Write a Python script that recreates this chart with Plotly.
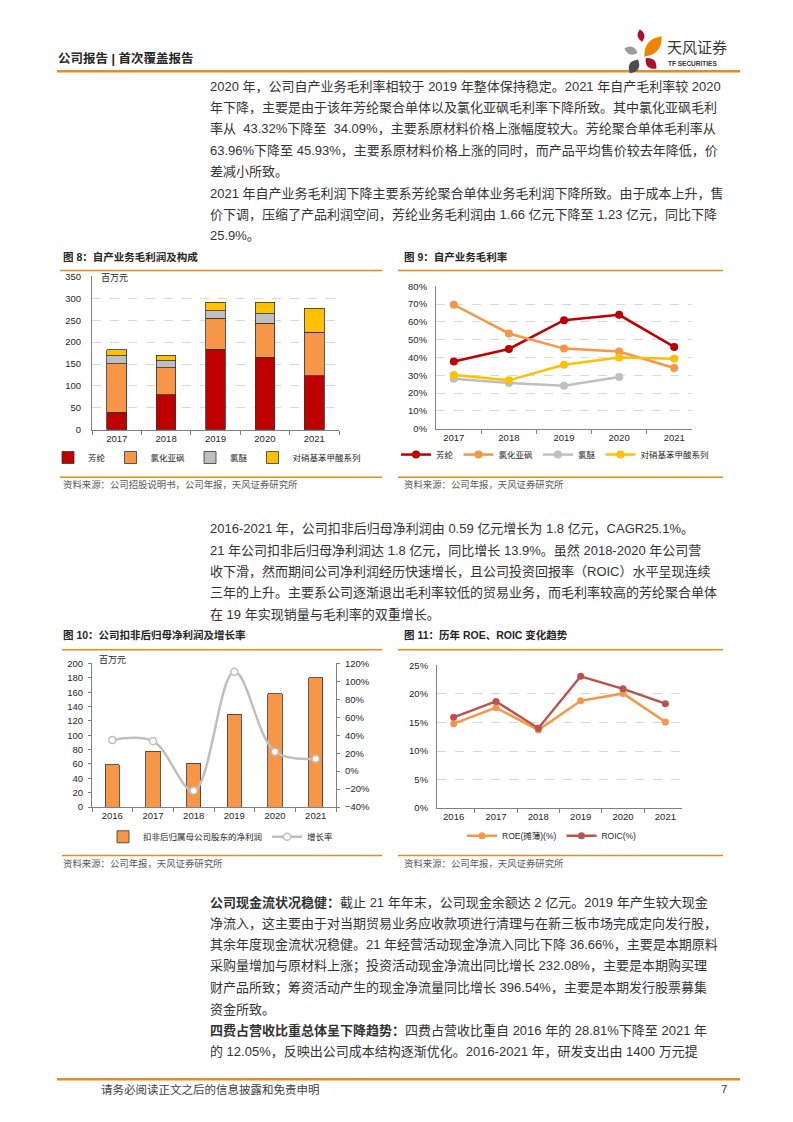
import math
import plotly.graph_objects as go

W, H = 793, 1122
FONT = "Liberation Sans, Arial, Noto Sans CJK SC"


def px(x):
    return x / W


def py(y):
    return 1 - y / H


# ---------------- data ----------------
years_a = ["2017", "2018", "2019", "2020", "2021"]
gp_aramid = [40, 80, 184, 166, 123]
gp_socl2 = [111, 62, 70, 77, 100]
gp_ether = [18, 16, 17, 22, 0]
gp_pnba = [14, 12, 20, 26, 54]

gm_aramid = [37.8, 44.8, 60.9, 63.96, 45.93]
gm_socl2 = [69.6, 53.5, 45.0, 43.32, 34.09]
gm_ether = [28.1, 25.7, 24.1, 29.1, None]
gm_pnba = [30.2, 27.2, 35.9, 40.0, 39.3]

years_b = ["2016", "2017", "2018", "2019", "2020", "2021"]
np_deducted = [59, 78, 61, 129.5, 158, 180]
np_growth = [34.8, 33.4, -21.9, 110.8, 21.6, 13.9]

roe = [14.8, 17.6, 13.7, 18.8, 20.1, 15.1]
roic = [15.9, 18.7, 14.0, 23.1, 20.9, 18.3]

names_a = ["芳纶", "氯化亚砜", "氯醚", "对硝基苯甲酸系列"]
colors_a = ["#C00000", "#F79646", "#BFBFBF", "#FFC000"]

para1 = [
    "2020 年，公司自产业务毛利率相较于 2019 年整体保持稳定。2021 年自产毛利率较 2020",
    "年下降，主要是由于该年芳纶聚合单体以及氯化亚砜毛利率下降所致。其中氯化亚砜毛利",
    "率从  43.32%下降至  34.09%，主要系原材料价格上涨幅度较大。芳纶聚合单体毛利率从",
    "63.96%下降至 45.93%，主要系原材料价格上涨的同时，而产品平均售价较去年降低，价",
    "差减小所致。",
]
para2 = [
    "2021 年自产业务毛利润下降主要系芳纶聚合单体业务毛利润下降所致。由于成本上升，售",
    "价下调，压缩了产品利润空间，芳纶业务毛利润由 1.66 亿元下降至 1.23 亿元，同比下降",
    "25.9%。",
]
para3 = [
    "2016-2021 年，公司扣非后归母净利润由 0.59 亿元增长为 1.8 亿元，CAGR25.1%。",
    "21 年公司扣非后归母净利润达 1.8 亿元，同比增长 13.9%。虽然 2018-2020 年公司营",
    "收下滑，然而期间公司净利润经历快速增长，且公司投资回报率（ROIC）水平呈现连续",
    "三年的上升。主要系公司逐渐退出毛利率较低的贸易业务，而毛利率较高的芳纶聚合单体",
    "在 19 年实现销量与毛利率的双重增长。",
]
para4 = [
    "<b>公司现金流状况稳健：</b>截止 21 年年末，公司现金余额达 2 亿元。2019 年产生较大现金",
    "净流入，这主要由于对当期贸易业务应收款项进行清理与在新三板市场完成定向发行股，",
    "其余年度现金流状况稳健。21 年经营活动现金净流入同比下降 36.66%，主要是本期原料",
    "采购量增加与原材料上涨；投资活动现金净流出同比增长 232.08%，主要是本期购买理",
    "财产品所致；筹资活动产生的现金净流量同比增长 396.54%，主要是本期发行股票募集",
    "资金所致。",
    "<b>四费占营收比重总体呈下降趋势：</b>四费占营收比重自 2016 年的 28.81%下降至 2021 年",
    "的 12.05%，反映出公司成本结构逐渐优化。2016-2021 年，研发支出由 1400 万元提",
]

fig = go.Figure()

# ---------------- chart 8: stacked bars ----------------
for name, vals, col in zip(names_a, [gp_aramid, gp_socl2, gp_ether, gp_pnba], colors_a):
    fig.add_trace(go.Bar(x=years_a, y=vals, name=name, marker_color=col,
                         marker_line=dict(color="#333333", width=0.8), width=0.4,
                         xaxis="x", yaxis="y", legend="legend"))

# ---------------- chart 9: margin lines ----------------
for name, vals, col in zip(names_a, [gm_aramid, gm_socl2, gm_ether, gm_pnba], colors_a):
    fig.add_trace(go.Scatter(x=years_a, y=vals, name=name, mode="lines+markers",
                             line=dict(color=col, width=2.5), marker=dict(size=8, color=col),
                             xaxis="x2", yaxis="y2", legend="legend2"))

# ---------------- chart 10: bars + growth ----------------
fig.add_trace(go.Bar(x=years_b, y=np_deducted, name="扣非后归属母公司股东的净利润",
                     marker_color="#F79646", marker_line=dict(color="#333333", width=0.8),
                     width=0.35, xaxis="x3", yaxis="y3", legend="legend3"))
fig.add_trace(go.Scatter(x=years_b, y=np_growth, name="增长率", mode="lines+markers",
                         line=dict(color="#BFBFBF", width=2.5, shape="spline"),
                         marker=dict(size=7, color="white", line=dict(color="#BFBFBF", width=1.5)),
                         xaxis="x3", yaxis="y5", legend="legend3"))

# ---------------- chart 11: ROE / ROIC ----------------
fig.add_trace(go.Scatter(x=years_b, y=roe, name="ROE(摊薄)(%)", mode="lines+markers",
                         line=dict(color="#F79646", width=2.5), marker=dict(size=7, color="#F79646"),
                         xaxis="x4", yaxis="y4", legend="legend4"))
fig.add_trace(go.Scatter(x=years_b, y=roic, name="ROIC(%)", mode="lines+markers",
                         line=dict(color="#C0504D", width=2.5), marker=dict(size=7, color="#C0504D"),
                         xaxis="x4", yaxis="y4", legend="legend4"))

AX = "#808080"
tickf = dict(family=FONT, size=9.5, color="#262626")


def xax(x0, x1, y_anchor):
    return dict(domain=[px(x0), px(x1)], anchor=y_anchor, type="category", showline=True,
                linecolor=AX, ticks="outside", tickson="boundaries", ticklen=4, tickcolor=AX,
                tickfont=tickf, showgrid=False, zeroline=False)


def yax(y_top, y_bot, x_anchor, rng, dtick, grid=True, suffix="", standoff=6):
    return dict(domain=[py(y_bot), py(y_top)], anchor=x_anchor, range=rng, dtick=dtick,
                showline=True, linecolor=AX, showgrid=grid, gridcolor="#D9D9D9",
                griddash="dash", zeroline=False, tickfont=tickf, ticksuffix=suffix,
                ticklabelstandoff=standoff)


leg = dict(orientation="h", xanchor="center", yanchor="middle", traceorder="normal",
           font=dict(family=FONT, size=8.5, color="#262626"),
           bgcolor="rgba(0,0,0,0)", itemwidth=30, tracegroupgap=0)

fig.update_layout(
    width=W, height=H, autosize=False, margin=dict(l=0, r=0, t=0, b=0),
    paper_bgcolor="white", plot_bgcolor="white", barmode="stack",
    font=dict(family=FONT, color="#262626"),
    xaxis=xax(92, 339, "y"),
    yaxis=yax(273, 428, "x", [0, 350], 50, standoff=8),
    xaxis2=xax(436, 692, "y2"),
    yaxis2=yax(283, 427, "x2", [0, 80], 10, suffix="%"),
    xaxis3=xax(92, 336, "y3"),
    yaxis3=dict(yax(664, 809, "x3", [0, 200], 20, grid=False), ticks="outside", ticklen=3, tickcolor=AX,
                ticklabelstandoff=3),
    yaxis5=dict(overlaying="y3", side="right", anchor="x3", range=[-40, 120], dtick=20, ticksuffix="%",
                showline=True, linecolor=AX, showgrid=False, zeroline=False, tickfont=tickf,
                ticks="outside", ticklen=3, tickcolor=AX, ticklabelstandoff=3),
    xaxis4=xax(437, 682, "y4"),
    yaxis4=yax(666, 810, "x4", [0, 25], 5, suffix="%"),
    legend=dict(leg, x=px(207), y=py(456)),
    legend2=dict(leg, x=px(555), y=py(453)),
    legend3=dict(leg, x=px(221), y=py(839)),
    legend4=dict(leg, x=px(552), y=py(838)),
    showlegend=True,
)

# ---------------- page text & decorations ----------------
ann = []
shapes = []
ORANGE = "#EE8A1C"
DY = -3  # text baseline correction


def text(x, y, s, size, color="#333333", bold=False, anchor="left"):
    ann.append(dict(x=px(x), y=py(y + DY), xref="paper", yref="paper",
                    text=("<b>%s</b>" % s) if bold else s,
                    showarrow=False, xanchor=anchor, yanchor="middle",
                    font=dict(family=FONT, size=size, color=color)))


def hline(x0, x1, y, width, color=ORANGE):
    shapes.append(dict(type="line", xref="paper", yref="paper", x0=px(x0), x1=px(x1), y0=py(y), y1=py(y),
                       line=dict(color=color, width=width)))


def petal(cx, cy, length, width, ang, color):
    a = math.radians(ang)
    dx, dy = math.cos(a) * length / 2, math.sin(a) * length / 2
    nx, ny = -math.sin(a) * width, math.cos(a) * width
    pts = [(cx + dx, cy + dy), (cx + nx, cy + ny), (cx - dx, cy - dy), (cx - nx, cy - ny)]
    p = [(px(u), py(v)) for u, v in pts]
    path = "M %f,%f Q %f,%f %f,%f Q %f,%f %f,%f Z" % (p[0] + p[1] + p[2] + p[3] + p[0])
    shapes.append(dict(type="path", xref="paper", yref="paper", path=path, fillcolor=color,
                       line=dict(width=0)))


# header
text(56, 56, "公司报告 | 首次覆盖报告", 12.5, "#262626", bold=True)
hline(57, 740, 66, 2.5)
petal(641, 30, 13, 7, 80, "#A8102E")
petal(653, 41, 27, 12, -50, "#F08300")
petal(631, 45, 14, 8, 20, "#9B9B9B")
petal(651, 58, 15, 9, 45, "#A8102E")
petal(634, 61, 16, 10, -60, "#4D4D4D")
text(665, 45, "天风证券", 15, "#333333")
text(666, 61, "<b>TF SECURITIES</b>", 6.5, "#333333")

# body paragraphs
LS = 21.6
for lines, y0 in [(para1, 84), (para2, 192), (para3, 531), (para4, 908)]:
    for i, s in enumerate(lines):
        text(208, y0 + i * LS, s, 13, "#333333")

# chart titles, rules, sources
text(61, 256, "图 8：自产业务毛利润及构成", 10.5, "#262626", bold=True)
text(402, 256, "图 9：自产业务毛利率", 10.5, "#262626", bold=True)
text(61, 638, "图 10：公司扣非后归母净利润及增长率", 10.5, "#262626", bold=True)
text(402, 638, "图 11：历年 ROE、ROIC 变化趋势", 10.5, "#262626", bold=True)
for y in [267, 476]:
    hline(60, 382, y, 1.5)
    hline(398, 723, y, 1.5)
for y in [650, 858]:
    hline(62, 382, y, 1.5)
    hline(398, 723, y, 1.5)
text(61, 486, "资料来源：公司招股说明书，公司年报，天风证券研究所", 9.4, "#595959")
text(402, 486, "资料来源：公司年报，天风证券研究所", 9.4, "#595959")
text(61, 869, "资料来源：公司年报，天风证券研究所", 9.4, "#595959")
text(402, 869, "资料来源：公司年报，天风证券研究所", 9.4, "#595959")
text(99, 278, "百万元", 9, "#262626")
text(97, 663, "百万元", 9, "#262626")

# footer
hline(57, 740, 1084, 2.5)
text(99, 1097, "请务必阅读正文之后的信息披露和免责申明", 11.5, "#404040")
text(724, 1097, "7", 11.5, "#404040", anchor="center")

fig.update_layout(annotations=ann, shapes=shapes)
fig.write_html("out.html", config={"displayModeBar": False},
               post_script="document.body.style.margin='0';")
